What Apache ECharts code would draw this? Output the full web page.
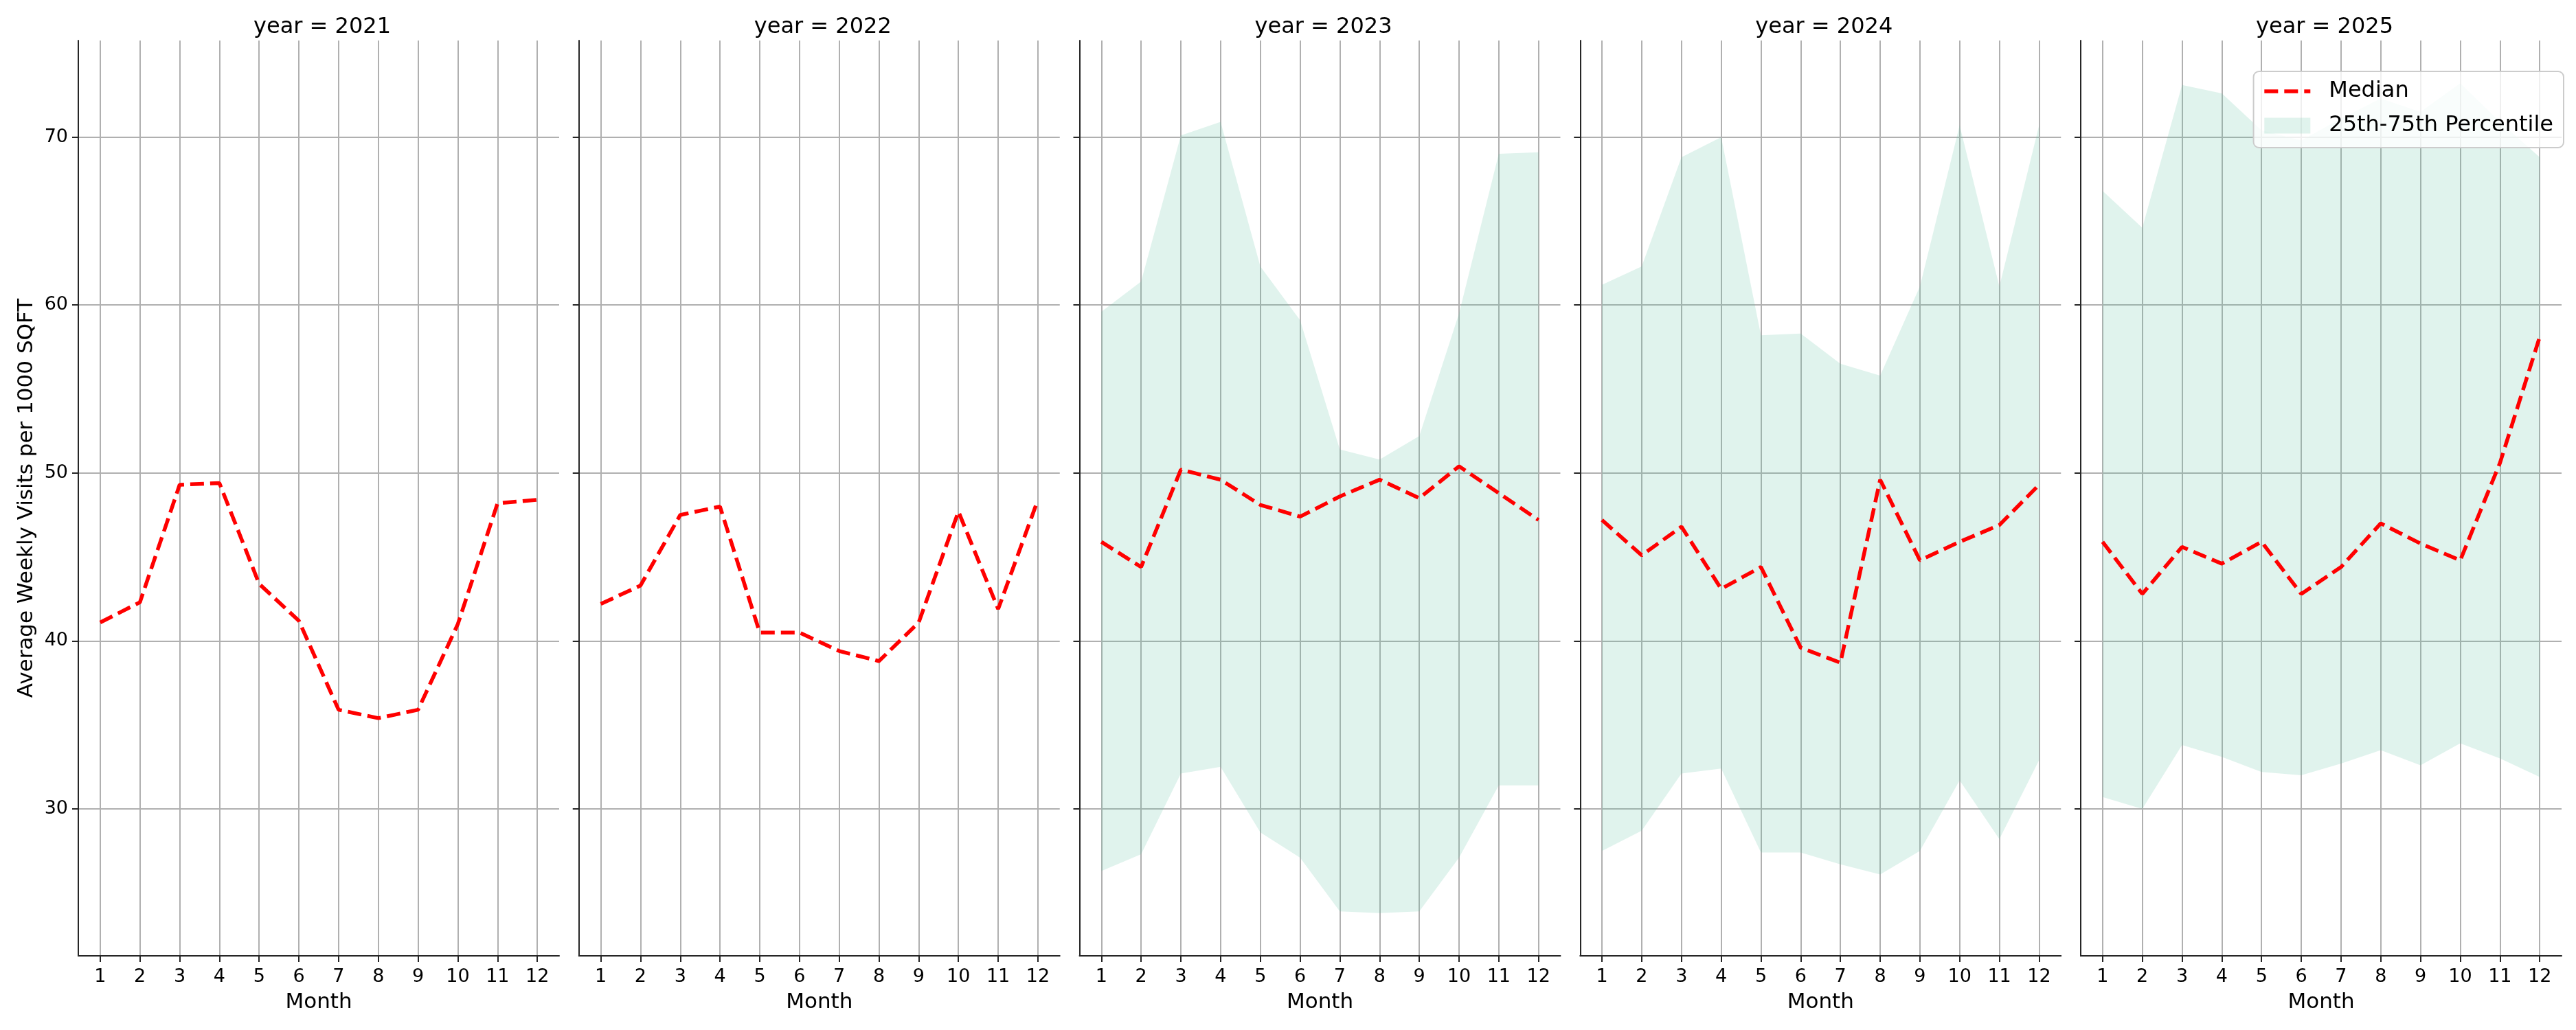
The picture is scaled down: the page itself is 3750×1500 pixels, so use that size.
<!DOCTYPE html>
<html>
<head>
<meta charset="utf-8">
<script src="https://cdn.jsdelivr.net/npm/echarts@6/dist/echarts.min.js"></script>
<style>
  html, body { margin: 0; padding: 0; background: #fff; }
  #chart { width: 3750px; height: 1500px; }
</style>
</head>
<body>
<div id="chart"></div>
<script>
// values
const months = [1, 2, 3, 4, 5, 6, 7, 8, 9, 10, 11, 12];
const years = [2021, 2022, 2023, 2024, 2025];
const yTicks = [30, 40, 50, 60, 70];

const median2021 = [41.1, 42.3, 49.3, 49.4, 43.4, 41.2, 35.9, 35.4, 35.9, 41.0, 48.2, 48.4];
const median2022 = [42.2, 43.3, 47.5, 48.0, 40.5, 40.5, 39.4, 38.8, 41.1, 47.7, 41.9, 48.4];

const median2023 = [45.9, 44.4, 50.2, 49.6, 48.1, 47.4, 48.6, 49.6, 48.5, 50.4, 48.8, 47.2];
const upper2023 = [59.6, 61.4, 70.1, 70.9, 62.3, 59.1, 51.4, 50.8, 52.2, 59.5, 69.0, 69.1];
const lower2023 = [26.3, 27.3, 32.1, 32.5, 28.6, 27.1, 23.9, 23.8, 23.9, 27.1, 31.4, 31.4];

const median2024 = [47.2, 45.1, 46.8, 43.1, 44.4, 39.6, 38.7, 49.6, 44.8, 45.9, 46.9, 49.3];
const upper2024 = [61.2, 62.3, 68.8, 70.0, 58.2, 58.3, 56.5, 55.8, 61.1, 70.7, 61.1, 70.7];
const lower2024 = [27.5, 28.7, 32.1, 32.4, 27.4, 27.4, 26.7, 26.1, 27.5, 31.7, 28.2, 32.9];

const median2025 = [45.9, 42.8, 45.6, 44.6, 45.9, 42.8, 44.4, 47.0, 45.8, 44.8, 50.6, 58.1];
const upper2025 = [66.8, 64.6, 73.1, 72.6, 70.4, 69.8, 71.1, 72.3, 71.5, 73.2, 70.9, 68.8];
const lower2025 = [30.7, 30.0, 33.8, 33.1, 32.2, 32.0, 32.7, 33.5, 32.6, 33.9, 33.0, 31.9];

const medians = [median2021, median2022, median2023, median2024, median2025];
const uppers = [null, null, upper2023, upper2024, upper2025];
const lowers = [null, null, lower2023, lower2024, lower2025];

const FONT = 'DejaVu Sans';
const INK = '#262626';
const GRID_COLOR = '#b0b0b0';
const BAND_COLOR = 'rgba(102,194,165,0.2)';
const MEDIAN_COLOR = '#ff0000';

const grids = [], xAxes = [], yAxes = [], titles = [], series = [];

// one polygon: upper edge left to right, then lower edge back
function bandRenderer(upper, lower) {
  return function (params, api) {
    if (params.dataIndex !== 0) return null;
    const pts = [];
    months.forEach((m, k) => pts.push(api.coord([m, upper[k]])));
    for (let k = months.length - 1; k >= 0; k--) pts.push(api.coord([months[k], lower[k]]));
    return {
      type: 'polygon',
      shape: { points: pts },
      style: { fill: BAND_COLOR },
      silent: true
    };
  };
}

years.forEach((year, i) => {
  const left = 114 + i * 728.75;
  grids.push({ left: left, top: 59, width: 700, height: 1333 });

  titles.push({
    text: 'year = ' + year,
    left: left + 350,
    top: 19,
    textAlign: 'center',
    textStyle: { fontFamily: FONT, fontSize: 32, fontWeight: 'normal', color: '#000' }
  });

  xAxes.push({
    gridIndex: i,
    type: 'value',
    min: 0.45,
    max: 12.55,
    name: 'Month',
    nameLocation: 'middle',
    nameGap: 52,
    nameTextStyle: { fontFamily: FONT, fontSize: 31, color: '#000' },
    axisLine: { show: true, lineStyle: { color: INK, width: 2 } },
    axisTick: { show: true, length: 9, customValues: months, lineStyle: { color: INK, width: 2 } },
    axisLabel: { customValues: months, margin: 17, fontFamily: FONT, fontSize: 27, color: '#000' },
    splitLine: { show: true, lineStyle: { color: GRID_COLOR, width: 2 } }
  });

  yAxes.push({
    gridIndex: i,
    type: 'value',
    min: 21.25,
    max: 75.75,
    name: i === 0 ? 'Average Weekly Visits per 1000 SQFT' : '',
    nameLocation: 'middle',
    nameRotate: 90,
    nameGap: 60,
    nameTextStyle: { fontFamily: FONT, fontSize: 31, color: '#000' },
    axisLine: { show: true, lineStyle: { color: INK, width: 2 } },
    axisTick: { show: true, length: 9, customValues: yTicks, lineStyle: { color: INK, width: 2 } },
    axisLabel: { show: i === 0, customValues: yTicks, margin: 15, fontFamily: FONT, fontSize: 27, color: '#000' },
    splitLine: { show: true, lineStyle: { color: GRID_COLOR, width: 2 } }
  });

  if (uppers[i]) {
    series.push({
      type: 'custom',
      name: '25th-75th Percentile',
      xAxisIndex: i,
      yAxisIndex: i,
      data: months.map((m, k) => [m, lowers[i][k], uppers[i][k]]),
      encode: { x: 0, y: [1, 2] },
      renderItem: bandRenderer(uppers[i], lowers[i]),
      itemStyle: { color: BAND_COLOR },
      silent: true,
      z: 1
    });
  }

  series.push({
    type: 'line',
    name: 'Median',
    xAxisIndex: i,
    yAxisIndex: i,
    data: months.map((m, k) => [m, medians[i][k]]),
    symbol: 'none',
    silent: true,
    itemStyle: { color: MEDIAN_COLOR },
    lineStyle: { color: MEDIAN_COLOR, width: 5.5, type: [20, 9] },
    z: 3
  });
});

const chart = echarts.init(document.getElementById('chart'));
chart.setOption({
  backgroundColor: '#fff',
  animation: false,
  title: titles,
  grid: grids,
  xAxis: xAxes,
  yAxis: yAxes,
  legend: {
    data: [
      { name: 'Median', itemStyle: { opacity: 0 }, lineStyle: { width: 5.5 } },
      { name: '25th-75th Percentile', icon: 'rect', itemStyle: { color: BAND_COLOR } }
    ],
    orient: 'vertical',
    right: 18,
    top: 104,
    itemWidth: 67,
    itemHeight: 23,
    itemGap: 10,
    padding: [9, 15, 12, 13],
    backgroundColor: 'rgba(255,255,255,0.8)',
    borderColor: '#cccccc',
    borderWidth: 2,
    borderRadius: 8,
    selectedMode: false,
    textStyle: { fontFamily: FONT, fontSize: 32, color: '#000', lineHeight: 40, padding: [0, 0, 0, 22] }
  },
  series: series
});
</script>
</body>
</html>
